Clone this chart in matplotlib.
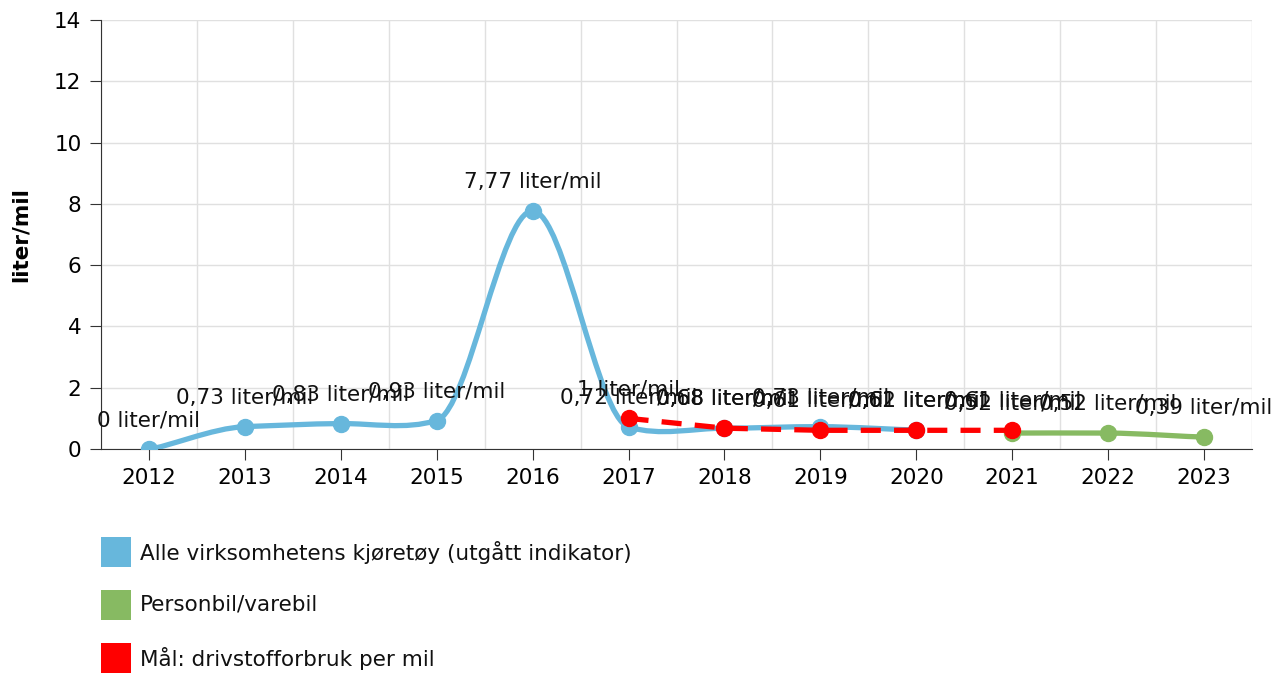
import matplotlib
matplotlib.use('Agg')
import matplotlib.pyplot as plt
import numpy as np
from matplotlib.path import Path
from matplotlib.patches import PathPatch, Rectangle

# Data
years = ['2012', '2013', '2014', '2015', '2016', '2017', '2018', '2019', '2020', '2021', '2022', '2023']
alle_years = years[0:9]
alle_vals = [0, 0.73, 0.83, 0.93, 7.77, 0.72, 0.68, 0.73, 0.62]
person_years = ['2021', '2022', '2023']
person_vals = [0.52, 0.52, 0.39]
maal_years = ['2017', '2018', '2019', '2020', '2021']
maal_vals = [1, 0.68, 0.61, 0.61, 0.61]

series_names = ['Alle virksomhetens kjøretøy (utgått indikator)', 'Personbil/varebil',
                'Mål: drivstofforbruk per mil']
colors = ['#67b7dc', '#87ba62', '#ff0000']

W, H = 1278, 673
FS = 15.5


def spline_path(xs, ys, kx=1 / 6, ky=0.045):
    # catmull-rom style bezier, weaker tension in y
    n = len(xs)
    px = [xs[0]] + list(xs) + [xs[-1]]
    py = [ys[0]] + list(ys) + [ys[-1]]
    verts = [(xs[0], ys[0])]
    codes = [Path.MOVETO]
    for i in range(1, n):
        j = i + 1  # index in padded arrays of current end point
        c1 = (px[j - 1] + kx * (px[j] - px[j - 2]), py[j - 1] + ky * (py[j] - py[j - 2]))
        c2 = (px[j] - kx * (px[j + 1] - px[j - 1]), py[j] - ky * (py[j + 1] - py[j - 1]))
        verts += [c1, c2, (px[j], py[j])]
        codes += [Path.CURVE4] * 3
    return Path(verts, codes)


fig = plt.figure(figsize=(W / 100, H / 100), dpi=100)
ax = fig.add_axes([101 / W, 1 - 449 / H, (1252 - 101) / W, (449 - 20) / H])

ax.set_xlim(-0.5, len(years) - 0.5)
ax.set_ylim(0, 14)
ax.set_yticks(np.arange(0, 15, 2))
ax.set_xticks(np.arange(len(years)))
ax.set_xticklabels(years)
ax.set_xticks(np.arange(len(years) + 1) - 0.5, minor=True)
ax.grid(True, which='minor', axis='x', color='#e0e0e0', lw=1)
ax.grid(True, which='major', axis='y', color='#e0e0e0', lw=1)
ax.set_axisbelow(True)
ax.tick_params(axis='x', which='minor', length=0)
ax.tick_params(axis='x', which='major', length=8, color='#333333', labelsize=FS, pad=6)
ax.tick_params(axis='y', length=8, color='#333333', labelsize=FS, pad=6)
for s in ['top', 'right']:
    ax.spines[s].set_visible(False)
ax.spines['left'].set_color('#333333')
ax.spines['bottom'].set_color('#333333')
ax.set_ylabel('liter/mil', fontsize=FS, fontweight='bold', labelpad=17)


def idx(yrs):
    return [years.index(y) for y in yrs]


def fmt(v):
    s = ('%.2f' % v).rstrip('0').rstrip('.')
    return s.replace('.', ',') + ' liter/mil'


# blue smoothed line
bx = idx(alle_years)
ax.add_patch(PathPatch(spline_path(bx, alle_vals), fill=False, edgecolor=colors[0], lw=3.8,
                       capstyle='round', joinstyle='round', zorder=3))
ax.plot(bx, alle_vals, 'o', color=colors[0], ms=11.5, zorder=4)

# green smoothed line
gx = idx(person_years)
ax.add_patch(PathPatch(spline_path(gx, person_vals), fill=False, edgecolor=colors[1], lw=3.8,
                       capstyle='round', joinstyle='round', zorder=3))
ax.plot(gx, person_vals, 'o', color=colors[1], ms=11.5, zorder=4)

# red target, dashed
rx = idx(maal_years)
ax.plot(rx, maal_vals, color=colors[2], lw=3.8, dashes=(3.8, 2.5), dash_capstyle='butt', zorder=5)
ax.plot(rx, maal_vals, 'o', color=colors[2], ms=11.5, zorder=6)

for xs, vals in [(bx, alle_vals), (gx, person_vals), (rx, maal_vals)]:
    for x, v in zip(xs, vals):
        ax.annotate(fmt(v), (x, v), xytext=(0, 29), textcoords='offset pixels',
                    ha='center', va='center', fontsize=FS, color='#111111',
                    annotation_clip=False, zorder=7)

# legend below the chart
for i, (name, c) in enumerate(zip(series_names, colors)):
    yc = 552 + i * 53
    fig.add_artist(Rectangle((101 / W, 1 - (yc + 15) / H), 30 / W, 30 / H,
                             transform=fig.transFigure, facecolor=c, edgecolor='none'))
    fig.text(140 / W, 1 - yc / H, name, fontsize=FS, va='center', ha='left', color='#111111')

fig.savefig('out.png', dpi=100)
